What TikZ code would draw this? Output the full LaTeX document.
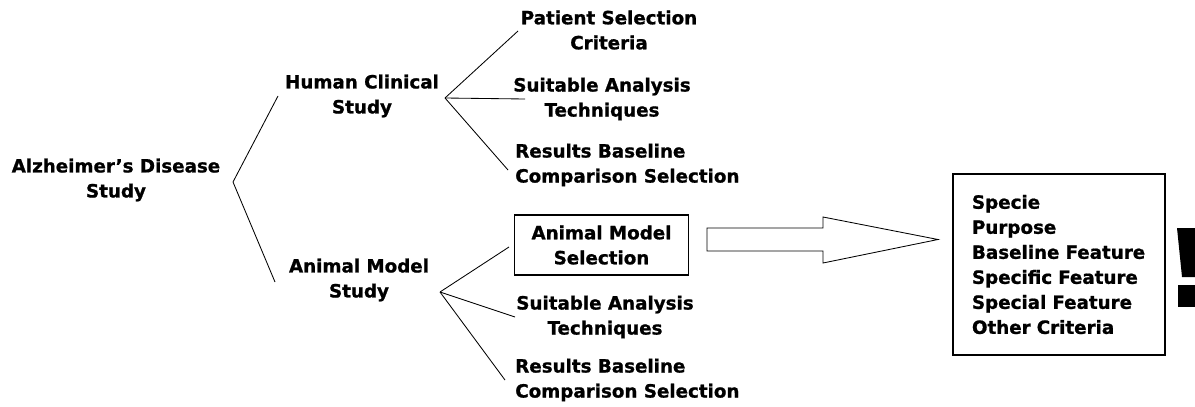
\documentclass[tikz,border=0pt]{standalone}
\usepackage{fontspec}
\setmainfont{DejaVu Sans}[BoldFeatures={FakeBold=1}]
\usepackage{tikz}
\usetikzlibrary{positioning}

\tikzset{
    lbl/.style   = {font=\bfseries\fontsize{13}{17.8}\selectfont, inner sep=0pt, align=center},
    lftlbl/.style= {lbl, anchor=west, align=left},
    selbox/.style= {lbl, draw, line width=0.8pt, minimum width=4.33cm, minimum height=1.5cm},
    critbox/.style={lbl, draw, line width=0.8pt, align=left, text width=4.35cm,
                    inner xsep=0.475cm, minimum height=4.525cm},
    twig/.style  = {black, line width=0.6pt}
}

\begin{document}
\begin{tikzpicture}[x=0.025cm,y=-0.025cm]
            \useasboundingbox (0,0) rectangle (1195,407);

            \node[lbl]     (root)   at (116,180)  {Alzheimer's Disease\\Study};
            \node[lbl]     (human)  at (362,96)   {Human Clinical\\Study};
            \node[lbl]     (animal) at (359,280)  {Animal Model\\Study};

            \node[lbl]     (hpat)   at (609,30)   {Patient Selection\\Criteria};
            \node[lbl]     (hsuit)  at (602,99)   {Suitable Analysis\\Techniques};
            \node[lftlbl]  (hres)   at (515,165)  {Results Baseline\\Comparison Selection};

            \node[selbox]  (asel)   at (601.5,245) {Animal Model\\Selection};
            \node[lbl]     (asuit)  at (605,317)  {Suitable Analysis\\Techniques};
            \node[lftlbl]  (ares)   at (515,380)  {Results Baseline\\Comparison Selection};

            \node[critbox] (crit)   at (1059,264.5) {Specie\\Purpose\\Baseline Feature\\Specific Feature\\Special Feature\\Other Criteria};

            \coordinate (rootfan) at (233,182);
            \coordinate (toH)     at (278,96);
            \coordinate (toA)     at (275,282);
            \coordinate (hfan)    at (445,98);
            \coordinate (toHpat)  at (518,31);
            \coordinate (toHsuit) at (525,99);
            \coordinate (toHres)  at (508,170);
            \coordinate (afan)    at (440,292);
            \coordinate (toAsel)  at (509,247);
            \coordinate (toAsuit) at (515,317);
            \coordinate (toAres)  at (505,380);

            \draw[twig] (toH) -- (rootfan) -- (toA);
            \draw[twig] (hfan) -- (toHpat);
            \draw[twig] (hfan) -- (toHsuit);
            \draw[twig] (hfan) -- (toHres);
            \draw[twig] (afan) -- (toAsel);
            \draw[twig] (afan) -- (toAsuit);
            \draw[twig] (afan) -- (toAres);

            \draw[twig, line join=miter] (707,228) -- (823,228) -- (823,217) -- (938,239.5)
                -- (823,263) -- (823,251) -- (707,251) -- cycle;

            \fill[black] (1177,228) -- (1195,228) -- (1195,277) -- (1182,277) -- cycle;
            \fill[black] (1178,285) rectangle (1195,307);
        \end{tikzpicture}
\end{document}
